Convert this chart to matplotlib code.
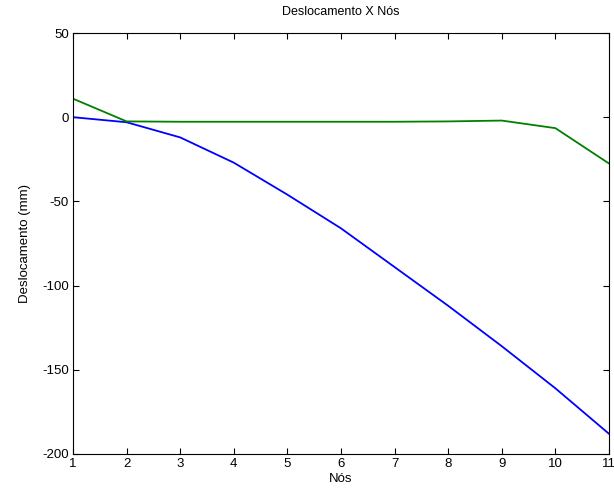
import matplotlib
matplotlib.use("Agg")
import matplotlib.pyplot as plt

nodes = [1, 2, 3, 4, 5, 6, 7, 8, 9, 10, 11]
blue_disp = [0, -3, -12, -27, -46, -66, -89, -112, -136, -161, -188]
green_disp = [11, -2.5, -2.7, -2.7, -2.7, -2.7, -2.7, -2.5, -2, -6.5, -27.5]
xticks = list(range(1, 12))
yticks = [-200, -150, -100, -50, 0, 50]

plt.rcParams['font.family'] = ['Liberation Sans', 'DejaVu Sans']
plt.rcParams['axes.unicode_minus'] = False
fig = plt.figure(figsize=(6.14, 4.97), dpi=100)
ax = fig.add_axes([73/614, 43/497, 536/614, 421/497])
ax.plot(nodes, blue_disp, color='#0000ff', lw=1.3)
ax.plot(nodes, green_disp, color='#008000', lw=1.3)
ax.set_xlim(1, 11)
ax.set_ylim(-200, 50)
ax.set_xticks(xticks)
ax.set_yticks(yticks)
ax.tick_params(direction='in', top=True, right=True, labelsize=9.5, length=4, width=0.8, pad=3)
for s in ax.spines.values():
    s.set_linewidth(0.8)
ax.set_title('Deslocamento X Nós', fontsize=9, pad=13)
ax.set_xlabel('Nós', fontsize=9.5, labelpad=2)
ax.set_ylabel('Deslocamento (mm)', fontsize=9.5, labelpad=8)
fig.savefig('out.png', dpi=100)
